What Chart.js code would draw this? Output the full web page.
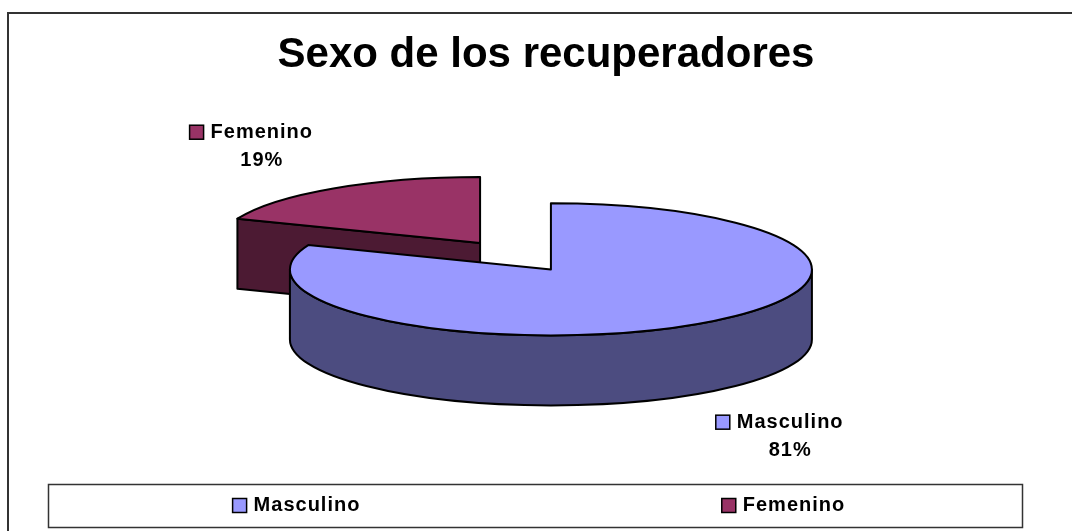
<!DOCTYPE html>
<html>
<head>
<meta charset="utf-8">
<script src="https://cdn.jsdelivr.net/npm/chart.js@4.4.1/dist/chart.umd.min.js"></script>
<style>
  body { margin: 0; background: #fff; }
  canvas { display: block; }
</style>
</head>
<body>
<canvas id="pieChart" width="1072" height="531"></canvas>
<script>
//! data >>
const categories = ['Masculino', 'Femenino'];
const shares = [81, 19];
const topColors = ['#9999ff', '#993366'];
const sideColors = ['#4c4c80', '#4c1a33'];

const FONT = "'Liberation Sans', Arial, sans-serif";
const tilt = 0.253;   // how flat the pie top looks
const depth = 70;     // pie thickness in px

// pie sits a bit left of the title centre
const pieShift = {
  id: 'pieShift',
  afterLayout(chart) {
    const a = chart.chartArea;
    a.right -= 61;
    a.width = a.right - a.left;
  }
};

function frontRanges(s, e) {
  const out = [];
  for (let n = -1; n <= 1; n++) {
    const a = Math.max(s, n * 2 * Math.PI);
    const b = Math.min(e, n * 2 * Math.PI + Math.PI);
    if (b > a) out.push([a, b]);
  }
  return out;
}

function outline(ctx, fill) {
  ctx.fillStyle = fill;
  ctx.fill();
  ctx.lineWidth = 2;
  ctx.strokeStyle = '#000';
  ctx.lineJoin = 'round';
  ctx.stroke();
}

function getSlices(chart) {
  const meta = chart.getDatasetMeta(0);
  return meta.data.map((arc, i) => {
    const p = arc.getProps(['x', 'y', 'startAngle', 'endAngle', 'outerRadius']);
    const mid = (p.startAngle + p.endAngle) / 2;
    const off = arc.options.offset;
    return {
      i, mid, s: p.startAngle, e: p.endAngle, r: p.outerRadius,
      cx: p.x + Math.cos(mid) * off,
      cy: p.y + Math.sin(mid) * off * tilt
    };
  });
}

const pie3d = {
  id: 'pie3d',
  beforeDraw(chart) {
    const ctx = chart.ctx;
    ctx.letterSpacing = '0px';
    ctx.save();
    ctx.strokeStyle = '#333';
    ctx.lineWidth = 2;
    ctx.strokeRect(8, 13, 1200, 700);
    ctx.restore();
  },
  beforeDatasetsDraw(chart) {
    const ctx = chart.ctx;
    const slices = getSlices(chart).sort((a, b) => Math.sin(a.mid) - Math.sin(b.mid));
    ctx.save();
    slices.forEach(sl => {
      const {cx, cy, r, s, e, i} = sl;
      const ry = r * tilt;
      // outer wall, front half only
      frontRanges(s, e).forEach(([a, b]) => {
        ctx.beginPath();
        ctx.ellipse(cx, cy, r, ry, 0, a, b, false);
        ctx.ellipse(cx, cy + depth, r, ry, 0, b, a, true);
        ctx.closePath();
        outline(ctx, sideColors[i]);
      });
      // cut faces
      [[s, Math.cos(s) < -0.01], [e, Math.cos(e) > 0.01]].forEach(([a, show]) => {
        if (!show) return;
        const px = cx + r * Math.cos(a), py = cy + ry * Math.sin(a);
        ctx.beginPath();
        ctx.moveTo(cx, cy);
        ctx.lineTo(px, py);
        ctx.lineTo(px, py + depth);
        ctx.lineTo(cx, cy + depth);
        ctx.closePath();
        outline(ctx, sideColors[i]);
      });
      // top face
      ctx.beginPath();
      ctx.moveTo(cx, cy);
      ctx.ellipse(cx, cy, r, ry, 0, s, e, false);
      ctx.closePath();
      outline(ctx, topColors[i]);
    });
    ctx.restore();
    return false;
  },
  afterDraw(chart) {
    const ctx = chart.ctx;
    const total = shares.reduce((a, b) => a + b, 0);
    ctx.save();
    ctx.letterSpacing = '1px';
    ctx.font = 'bold 20px ' + FONT;
    ctx.textBaseline = 'middle';

    // data labels
    getSlices(chart).forEach(sl => {
      const c = Math.cos(sl.mid), sn = Math.sin(sl.mid);
      let ax = sl.cx + sl.r * c;
      let ay = sl.cy + sl.r * tilt * sn + (sn > 0 ? depth : 0);
      const bx = ax + c * 146, by = ay + sn * 51;
      const name = categories[sl.i];
      const tw = ctx.measureText(name).width;
      const left = bx - (15 + 6 + tw) / 2;
      ctx.fillStyle = topColors[sl.i];
      ctx.fillRect(left, by - 21, 14, 14);
      ctx.strokeStyle = '#000';
      ctx.lineWidth = 1.5;
      ctx.strokeRect(left, by - 21, 14, 14);
      ctx.fillStyle = '#000';
      ctx.textAlign = 'left';
      ctx.fillText(name, left + 21, by - 14);
      ctx.textAlign = 'center';
      ctx.fillText(Math.round(shares[sl.i] / total * 100) + '%', left + 21 + tw / 2, by + 14);
    });

    // legend box
    const lb = {left: 48, top: 484, width: 974, height: 43};
    ctx.strokeStyle = '#333';
    ctx.lineWidth = 1.5;
    ctx.strokeRect(lb.left + 0.5, lb.top + 0.5, lb.width, lb.height);
    categories.forEach((name, i) => {
      const tw = ctx.measureText(name).width;
      const mid = lb.left + (i + 0.5) * lb.width / categories.length + 5;
      const left = mid - (21 + tw) / 2;
      const y = lb.top + lb.height / 2;
      ctx.fillStyle = topColors[i];
      ctx.fillRect(left, y - 7, 14, 14);
      ctx.strokeStyle = '#000';
      ctx.strokeRect(left, y - 7, 14, 14);
      ctx.fillStyle = '#000';
      ctx.textAlign = 'left';
      ctx.fillText(name, left + 21, y);
    });
    ctx.restore();
  }
};

new Chart('pieChart', {
  type: 'pie',
  data: {
    labels: categories,
    datasets: [{
      data: shares,
      backgroundColor: topColors,
      offset: 63
    }]
  },
  options: {
    responsive: false,
    devicePixelRatio: 1,
    animation: false,
    radius: 261,
    layout: { padding: { left: 20, right: 0, top: 0, bottom: 99 } },
    plugins: {
      title: {
        display: true,
        text: 'Sexo de los recuperadores',
        color: '#000',
        font: { family: FONT, size: 42, weight: 'bold', lineHeight: 1.2 },
        padding: { top: 30, bottom: 0 }
      },
      legend: { display: false },
      tooltip: { enabled: false }
    }
  },
  plugins: [pieShift, pie3d]
});
</script>
</body>
</html>
